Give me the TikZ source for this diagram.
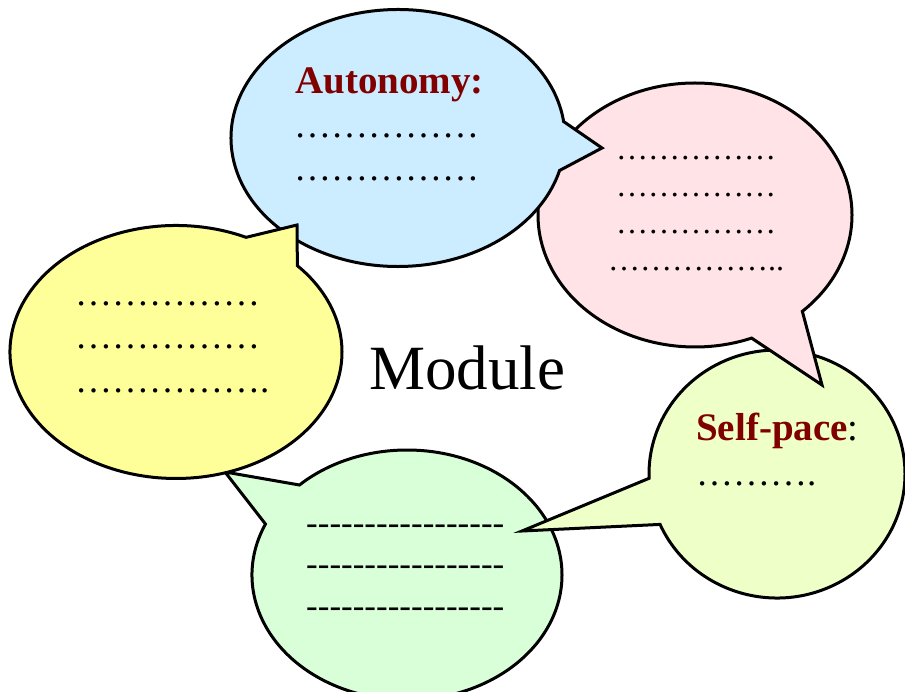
\documentclass[tikz,border=0pt]{standalone}
\usepackage{fontspec}
\setmainfont{Liberation Serif}[Ligatures=TeXOff]
\usepackage{xcolor}
\usepackage{tikz}
\usetikzlibrary{shapes.callouts}
\definecolor{BubBlue}{HTML}{CCECFF}
\definecolor{BubPink}{HTML}{FFE3E6}
\definecolor{BubLime}{HTML}{EFFFC8}
\definecolor{BubGreen}{HTML}{D9FFD9}
\definecolor{BubYellow}{HTML}{FFFF99}
\definecolor{HeadRed}{HTML}{800000}

\begin{document}
\begin{tikzpicture}[
  x=1pt, y=-1pt,
  bubble/.style={ellipse callout, draw=black, line width=3pt, inner sep=0pt,
                 outer sep=0pt, callout pointer arc=22},
  head/.style={anchor=base west, inner sep=0pt, text=HeadRed,
               font=\fontsize{39}{43}\selectfont\bfseries},
  dotrow/.style={anchor=base west, inner sep=0pt, align=left,
                 font=\fontsize{37}{43.5}\selectfont},
]
\useasboundingbox (0,0) rectangle (905,692);
% bubbles, back to front
\node[bubble, fill=BubGreen, minimum width=310pt, minimum height=250pt,
      callout absolute pointer={(225,472)}] (dash) at (407,575) {};
\node[bubble, fill=BubLime, minimum width=256pt, minimum height=248pt,
      callout absolute pointer={(522,531)}] (pace) at (777,474) {};
\node[bubble, fill=BubPink, minimum width=314pt, minimum height=264pt,
      callout absolute pointer={(822,385)}] (notes) at (695,215) {};
\node[bubble, fill=BubBlue, minimum width=334pt, minimum height=257pt,
      callout absolute pointer={(602,148)}] (auto) at (398,138) {};
\node[bubble, fill=BubYellow, minimum width=332pt, minimum height=253pt,
      callout absolute pointer={(297,225)}] (ideas) at (176,352) {};
% texts (multi-line nodes sit on their last baseline)
\node[head] (autohead) at (295,94) {Autonomy:};
\node[dotrow] (autotxt) at (294,181) {……………\\……………};
\node[dotrow, font=\fontsize{32}{37}\selectfont] (notestxt) at (616,271)
  {……………\\……………\\……………\\\hspace*{-8pt}……………..};
\node[dotrow] (ideastxt) at (75,392) {……………\\……………\\…………….};
\node[dotrow, font=\fontsize{35}{41.5}\selectfont] (dashtxt) at (306,617)
  {-----------------\\-----------------\\-----------------};
\node[head] (pacehead) at (696,440) {Self-pace\textcolor{black}{\mdseries:}};
\node[dotrow] (pacetxt) at (696,485) {……….};
\node[anchor=base west, inner sep=0pt, font=\fontsize{63}{69}\selectfont] (module)
  at (369,390) {Module};
\end{tikzpicture}
\end{document}
